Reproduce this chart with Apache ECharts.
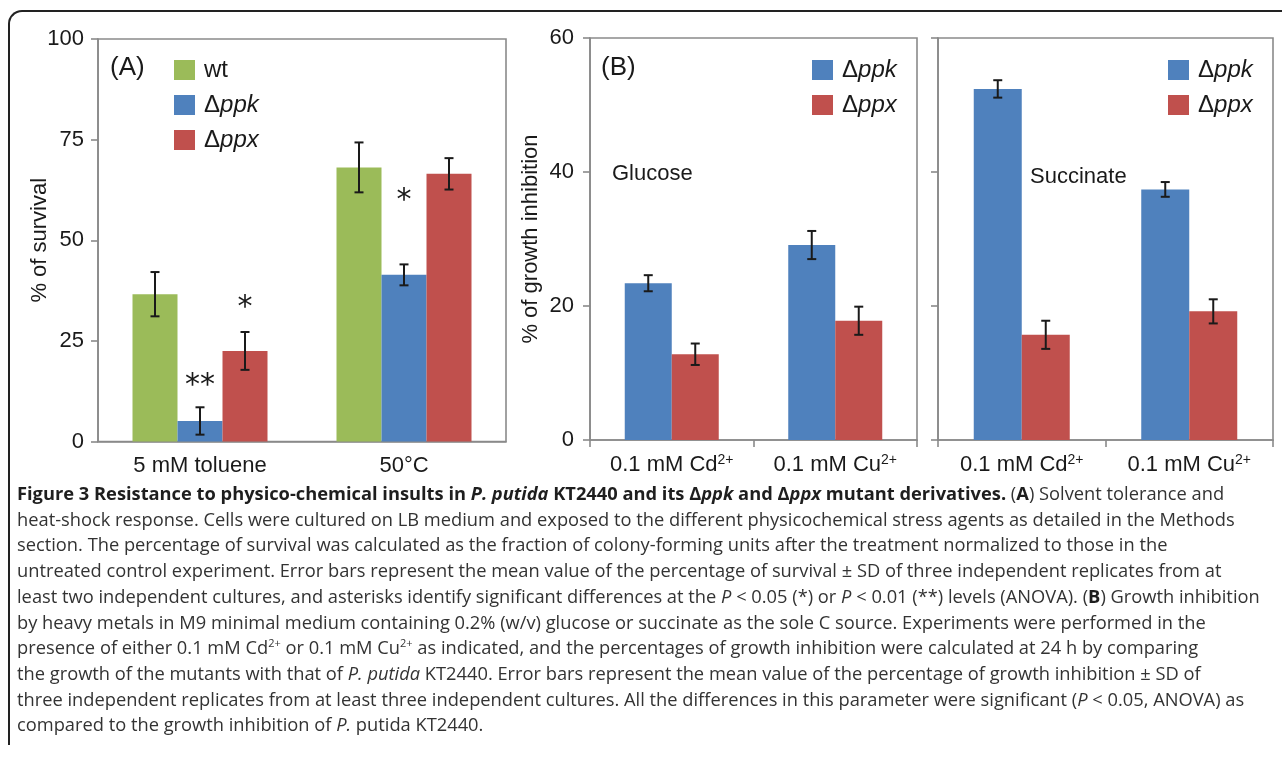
<!DOCTYPE html>
<html>
<head>
<meta charset="utf-8">
<script src="https://cdn.jsdelivr.net/npm/echarts@6/dist/echarts.min.js"></script>
<style>
  html, body { margin: 0; padding: 0; background: #fff; }
  #wrap { position: relative; width: 1282px; height: 759px; overflow: hidden; background: #fff; }
  #frame { position: absolute; left: 8px; top: 10px; width: 1300px; height: 735px; border: 2px solid #222; border-right: none; border-bottom: none; border-top-left-radius: 14px; box-sizing: border-box; }
  #chart { position: absolute; left: 0; top: 0; width: 1282px; height: 490px; }
  #caption { position: absolute; left: 17px; top: 480px; font-family: 'Open Sans', 'Noto Sans', sans-serif; font-size: 18.3px; line-height: 25.7px; color: #333; white-space: nowrap; }
  #caption b { color: #1e1e1e; }
  #caption sup { font-size: 11px; line-height: 0; vertical-align: 7px; }
</style>
</head>
<body>
<div id="wrap">
  <div id="frame"></div>
  <div id="chart"></div>
  <div id="caption">
    <div><b>Figure 3 Resistance to physico-chemical insults in <i>P. putida</i> KT2440 and its Δ<i>ppk</i> and Δ<i>ppx</i> mutant derivatives.</b> (<b>A</b>) Solvent tolerance and</div>
    <div>heat-shock response. Cells were cultured on LB medium and exposed to the different physicochemical stress agents as detailed in the Methods</div>
    <div>section. The percentage of survival was calculated as the fraction of colony-forming units after the treatment normalized to those in the</div>
    <div>untreated control experiment. Error bars represent the mean value of the percentage of survival ± SD of three independent replicates from at</div>
    <div>least two independent cultures, and asterisks identify significant differences at the <i>P</i> &lt; 0.05 (*) or <i>P</i> &lt; 0.01 (**) levels (ANOVA). (<b>B</b>) Growth inhibition</div>
    <div>by heavy metals in M9 minimal medium containing 0.2% (w/v) glucose or succinate as the sole C source. Experiments were performed in the</div>
    <div>presence of either 0.1 mM Cd<sup>2+</sup> or 0.1 mM Cu<sup>2+</sup> as indicated, and the percentages of growth inhibition were calculated at 24 h by comparing</div>
    <div>the growth of the mutants with that of <i>P. putida</i> KT2440. Error bars represent the mean value of the percentage of growth inhibition ± SD of</div>
    <div>three independent replicates from at least three independent cultures. All the differences in this parameter were significant (<i>P</i> &lt; 0.05, ANOVA) as</div>
    <div>compared to the growth inhibition of <i>P.</i> putida KT2440.</div>
  </div>
</div>
<script>
// ---------- DATA ----------
const categoriesA = ['5 mM toluene', '50°C'];
const wtA = [36.6, 68.1];
const ppkA = [5.1, 41.4];
const ppxA = [22.5, 66.5];
const wtErrA = [5.5, 6.2];
const ppkErrA = [3.4, 2.6];
const ppxErrA = [4.7, 3.9];
const ppkStarA = ['**', '*'];
const ppkStarYA = [15.3, 61.2];
const ppxStarA = ['*', ''];
const ppxStarYA = [34.7, null];
const yTicksA = [0, 25, 50, 75, 100];

const categoriesB = ['0.1 mM Cd2+', '0.1 mM Cu2+'];
const ppkGlucose = [23.4, 29.1];
const ppkGlucoseErr = [1.2, 2.1];
const ppxGlucose = [12.8, 17.8];
const ppxGlucoseErr = [1.6, 2.1];
const ppkSuccinate = [52.4, 37.4];
const ppkSuccinateErr = [1.3, 1.1];
const ppxSuccinate = [15.7, 19.2];
const ppxSuccinateErr = [2.1, 1.8];
const yTicksB = [0, 20, 40, 60];

// ---------- STYLE ----------
const FONT = "'Liberation Sans Narrow', 'Liberation Sans', Arial, sans-serif";
const C_WT = '#9BBB59', C_PPK = '#4F81BD', C_PPX = '#C0504D';
const AX = '#8a8a8a';
const TXT = '#1a1a1a';
const FS = 22;

const chart = echarts.init(document.getElementById('chart'), null, { renderer: 'canvas' });

function yAxisCfg(gridIndex, ticks, showLabels, name, nameGap, margin) {
  return {
    type: 'value', gridIndex,
    min: ticks[0], max: ticks[ticks.length - 1], interval: ticks[1] - ticks[0],
    axisLine: { show: true, lineStyle: { color: AX, width: 1.6 } },
    axisTick: { show: true, length: 7, lineStyle: { color: AX, width: 1.6 } },
    splitLine: { show: false },
    axisLabel: { show: showLabels, fontSize: FS, color: TXT, fontFamily: FONT, margin: margin },
    name: name, nameLocation: 'middle', nameRotate: 90, nameGap: nameGap, nameMoveOverlap: false,
    nameTextStyle: { fontSize: FS, color: TXT, fontFamily: FONT }
  };
}
function supFormatter(v) {
  const m = v.match(/^(.*?)(\d\+)$/);
  return m ? m[1] + '{sup|' + m[2] + '}' : v;
}
function xAxisCfg(gridIndex, cats, ticks) {
  return {
    type: 'category', gridIndex, data: cats,
    axisLine: { show: true, lineStyle: { color: AX, width: 1.6 } },
    axisTick: { show: ticks, length: 7, lineStyle: { color: AX, width: 1.6 } },
    axisLabel: {
      interval: 0, fontSize: FS, color: TXT, fontFamily: FONT, margin: 13,
      formatter: supFormatter,
      rich: { sup: { fontSize: 14, color: TXT, fontFamily: FONT, verticalAlign: 'top', padding: [0, 0, 10, 0] } }
    }
  };
}

function barSeries(name, color, data, xi, yi, barWidth) {
  return { type: 'bar', name, data, xAxisIndex: xi, yAxisIndex: yi, barWidth, barGap: '0%',
           itemStyle: { color }, animation: false, z: 2 };
}
function errSeries(name, vals, errs, xi, yi, offset) {
  return {
    type: 'custom', name: name, xAxisIndex: xi, yAxisIndex: yi, z: 5, animation: false, silent: true,
    data: vals.map((v, i) => [i, v, errs[i]]),
    encode: { x: 0, y: 1 },
    renderItem: function (params, api) {
      const i = api.value(0), v = api.value(1), e = api.value(2);
      const top = api.coord([i, v + e]);
      const bot = api.coord([i, v - e]);
      const x = top[0] + offset;
      const cap = 4.5;
      const st = { stroke: '#1a1a1a', lineWidth: 2 };
      return { type: 'group', children: [
        { type: 'line', shape: { x1: x, y1: top[1], x2: x, y2: bot[1] }, style: st },
        { type: 'line', shape: { x1: x - cap, y1: top[1], x2: x + cap, y2: top[1] }, style: st },
        { type: 'line', shape: { x1: x - cap, y1: bot[1], x2: x + cap, y2: bot[1] }, style: st }
      ] };
    }
  };
}
function starSeries(name, labels, ys, xi, yi, offset) {
  return {
    type: 'custom', name: name, xAxisIndex: xi, yAxisIndex: yi, z: 6, animation: false, silent: true,
    data: labels.map((l, i) => [i, ys[i] == null ? 0 : ys[i], l]).filter(d => d[2]),
    encode: { x: 0, y: 1 },
    renderItem: function (params, api) {
      const p = api.coord([api.value(0), api.value(1)]);
      return { type: 'text', x: p[0] + offset, y: p[1] + 6,
        style: { text: api.value(2), fontSize: 30, fontFamily: "'DejaVu Sans', sans-serif", fill: '#1a1a1a', align: 'center', verticalAlign: 'middle' } };
    }
  };
}

const legendText = {
  fontSize: 24, color: TXT, fontFamily: FONT, padding: [0, 0, 0, 4],
  rich: { d: { fontSize: 24, fontFamily: FONT, color: TXT }, i: { fontSize: 24, fontFamily: FONT, fontStyle: 'italic', color: TXT } }
};
const legendFormatter = n => n === 'wt' ? 'wt' : '{d|Δ}{i|' + n + '}';

const bwA = 45, bwB1 = 47, bwB2 = 48;

function legendCfg(names, left) {
  return { data: names, orient: 'vertical', left: left, top: 53, itemWidth: 21, itemHeight: 20, itemGap: 11,
    icon: 'rect', formatter: legendFormatter, textStyle: legendText, selectedMode: false };
}

const option = {
  animation: false,
  textStyle: { fontFamily: FONT },
  grid: [
    { left: 98, top: 39, width: 408, height: 402.5, show: true, borderColor: AX, borderWidth: 1.6, backgroundColor: 'transparent' },
    { left: 590, top: 38, width: 327, height: 402, show: true, borderColor: AX, borderWidth: 1.6, backgroundColor: 'transparent' },
    { left: 938, top: 38, width: 335, height: 402, show: true, borderColor: AX, borderWidth: 1.6, backgroundColor: 'transparent' }
  ],
  xAxis: [ xAxisCfg(0, categoriesA, false), xAxisCfg(1, categoriesB, true), xAxisCfg(2, categoriesB, true) ],
  yAxis: [
    yAxisCfg(0, yTicksA, true, '% of survival', 47, 14),
    yAxisCfg(1, yTicksB, true, '% of growth inhibition', 48, 16),
    yAxisCfg(2, yTicksB, false, '', 0, 8)
  ],
  legend: [
    legendCfg(['wt', 'ppk', 'ppx'], 169),
    legendCfg(['ppk', 'ppx'], 807),
    legendCfg(['ppk', 'ppx'], 1163)
  ],
  graphic: [
    { type: 'text', left: 110, top: 55, style: { text: '(A)', fontSize: 26, fontFamily: FONT, fill: TXT } },
    { type: 'text', left: 601, top: 55, style: { text: '(B)', fontSize: 26, fontFamily: FONT, fill: TXT } },
    { type: 'text', left: 612, top: 163, style: { text: 'Glucose', fontSize: FS, fontFamily: FONT, fill: TXT } },
    { type: 'text', left: 1030, top: 166, style: { text: 'Succinate', fontSize: FS, fontFamily: FONT, fill: TXT } }
  ],
  series: [
    barSeries('wt', C_WT, wtA, 0, 0, bwA),
    barSeries('ppk', C_PPK, ppkA, 0, 0, bwA),
    barSeries('ppx', C_PPX, ppxA, 0, 0, bwA),
    errSeries('wt err', wtA, wtErrA, 0, 0, -bwA),
    errSeries('ppk err', ppkA, ppkErrA, 0, 0, 0),
    errSeries('ppx err', ppxA, ppxErrA, 0, 0, bwA),
    starSeries('ppk sig', ppkStarA, ppkStarYA, 0, 0, 0),
    starSeries('ppx sig', ppxStarA, ppxStarYA, 0, 0, bwA),

    barSeries('ppk', C_PPK, ppkGlucose, 1, 1, bwB1),
    barSeries('ppx', C_PPX, ppxGlucose, 1, 1, bwB1),
    errSeries('ppk err g', ppkGlucose, ppkGlucoseErr, 1, 1, -bwB1 / 2),
    errSeries('ppx err g', ppxGlucose, ppxGlucoseErr, 1, 1, bwB1 / 2),

    barSeries('ppk', C_PPK, ppkSuccinate, 2, 2, bwB2),
    barSeries('ppx', C_PPX, ppxSuccinate, 2, 2, bwB2),
    errSeries('ppk err s', ppkSuccinate, ppkSuccinateErr, 2, 2, -bwB2 / 2),
    errSeries('ppx err s', ppxSuccinate, ppxSuccinateErr, 2, 2, bwB2 / 2)
  ]
};
chart.setOption(option);
</script>
</body>
</html>
